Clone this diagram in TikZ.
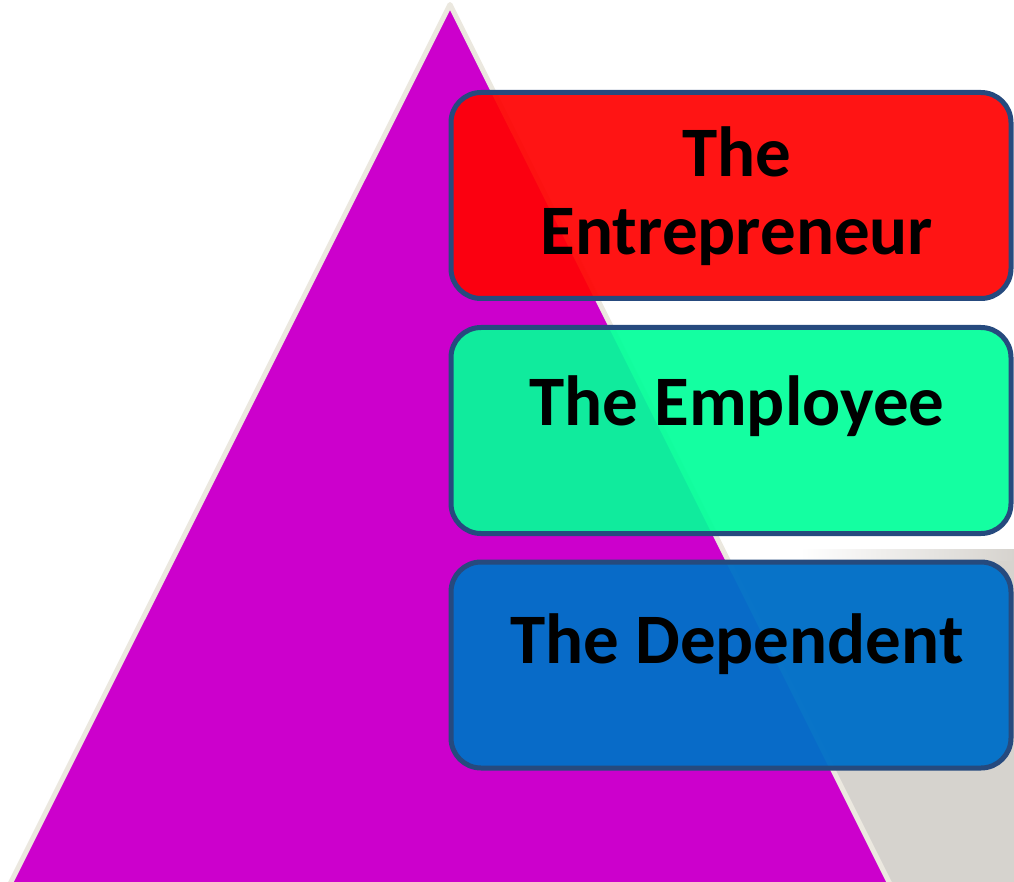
\documentclass[tikz,border=0pt]{standalone}
\usepackage{fontspec}
\setmainfont{Carlito}
\definecolor{tri}{HTML}{CC00CC}
\definecolor{triedge}{HTML}{EBE8DF}
\definecolor{bgrey}{HTML}{D6D3CE}
\definecolor{boxline}{HTML}{264A7E}
\definecolor{redfill}{HTML}{FF0000}
\definecolor{greenfill}{HTML}{00FF99}
\definecolor{bluefill}{HTML}{0070C8}
\begin{document}
\begin{tikzpicture}[x=1pt,y=-1pt,
  levelbox/.style={draw=boxline, line width=5pt, rounded corners=30pt,
    minimum width=560pt, minimum height=206pt, inner sep=0pt, fill opacity=0.92},
  label/.style={font=\fontsize{71}{78}\selectfont\bfseries, text=black, anchor=base, inner sep=0pt}]
\useasboundingbox (0,0) rectangle (1014,882);
% grey background at lower right
\fill[bgrey] (500,560) rectangle (1014,886);
\shade[left color=white, right color=bgrey] (800,549) rectangle (1014,560.5);
% pyramid
\coordinate (apex) at (450,4.5);
\coordinate (bl) at (9,886);
\coordinate (br) at (891,886);
\filldraw[fill=tri, draw=triedge, line width=5pt, line join=round] (apex) -- (bl) -- (br) -- cycle;
% level boxes
\node[levelbox, fill=redfill]   (b1) at (731,195.5) {};
\node[levelbox, fill=greenfill] (b2) at (731,430.5) {};
\node[levelbox, fill=bluefill, fill opacity=0.96]  (b3) at (731,665) {};
% labels
\node[label] (t1a) at (737,177) {The};
\node[label] (t1b) at (737,255) {Entrepreneur};
\node[label] (t2) at (737,425) {The Employee};
\node[label] (t3) at (737,663) {The Dependent};
\end{tikzpicture}
\end{document}
